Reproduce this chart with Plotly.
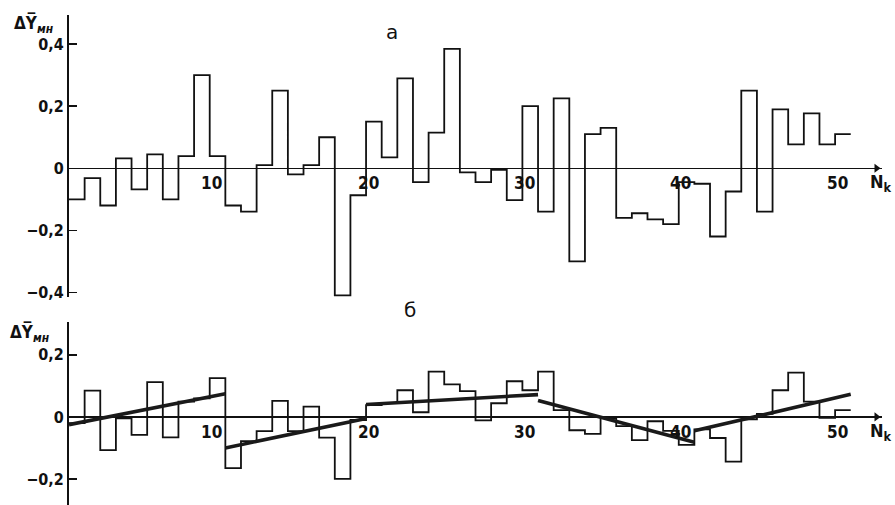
import plotly.graph_objects as go

# ---------------- data ----------------
# panel "а": step values for N_k = 1..50
a_vals = [-0.10, -0.032, -0.12, 0.032, -0.068, 0.045, -0.10, 0.039, 0.30, 0.039,
          -0.12, -0.14, 0.01, 0.25, -0.02, 0.01, 0.10, -0.41, -0.087, 0.15,
          0.035, 0.29, -0.045, 0.115, 0.385, -0.013, -0.045, -0.005, -0.103, 0.20,
          -0.14, 0.225, -0.30, 0.11, 0.13, -0.16, -0.145, -0.165, -0.18, -0.045,
          -0.05, -0.22, -0.075, 0.25, -0.14, 0.19, 0.077, 0.177, 0.077, 0.11]

# panel "б": step values for N_k = 1..50
b_vals = [-0.02, 0.085, -0.107, -0.005, -0.058, 0.112, -0.066, 0.049, 0.06, 0.125,
          -0.165, -0.078, -0.046, 0.052, -0.046, 0.033, -0.067, -0.20, -0.01, 0.038,
          0.045, 0.086, 0.015, 0.146, 0.105, 0.083, -0.011, 0.044, 0.115, 0.086,
          0.146, 0.022, -0.043, -0.055, -0.004, -0.03, -0.075, -0.014, -0.045, -0.09,
          -0.04, -0.068, -0.144, -0.008, 0.01, 0.086, 0.143, 0.049, -0.003, 0.022]

# piecewise linear trends in panel "б"
trend_x = [[0, 10], [10, 19], [19, 30], [30, 40], [40, 50]]
trend_y = [[-0.025, 0.075], [-0.10, -0.005], [0.04, 0.072], [0.053, -0.082], [-0.045, 0.073]]

x_ticks = [10, 20, 30, 40, 50]
a_yticks = [0.4, 0.2, 0, -0.2, -0.4]
a_yticktext = ["0,4", "0,2", "0", "−0,2", "−0,4"]
b_yticks = [0.2, 0, -0.2]
b_yticktext = ["0,2", "0", "−0,2"]

# ---------------- figure ----------------
W, H = 895, 505
INK = "#111111"
FONT = "DejaVu Sans Condensed, Liberation Sans Narrow, DejaVu Sans, sans-serif"

n = len(a_vals)
xs = list(range(n + 1))
xdom = [69 / W, 882 / W]
xr = [0, 52]

fig = go.Figure()
fig.add_trace(go.Scatter(x=xs, y=a_vals + [a_vals[-1]], mode="lines",
                         line=dict(shape="hv", color=INK, width=1.8),
                         xaxis="x", yaxis="y", hoverinfo="skip"))
fig.add_trace(go.Scatter(x=xs, y=b_vals + [b_vals[-1]], mode="lines",
                         line=dict(shape="hv", color=INK, width=1.8),
                         xaxis="x2", yaxis="y2", hoverinfo="skip"))
for tx, ty in zip(trend_x, trend_y):
    fig.add_trace(go.Scatter(x=tx, y=ty, mode="lines",
                             line=dict(color="#1a1a1a", width=3.6),
                             xaxis="x2", yaxis="y2", hoverinfo="skip"))
# arrowheads at the end of the N_k axes
for xa, ya in (("x", "y"), ("x2", "y2")):
    fig.add_trace(go.Scatter(x=[xr[1] - 0.35], y=[0], mode="markers",
                             marker=dict(symbol="triangle-right", size=8, color=INK),
                             xaxis=xa, yaxis=ya, hoverinfo="skip", cliponaxis=False))

yaxis_common = dict(showline=True, linecolor=INK, linewidth=2, ticks="inside",
                    ticklen=8, tickwidth=1.5, tickcolor=INK, showgrid=False,
                    zeroline=True, zerolinecolor=INK, zerolinewidth=1.2,
                    tickfont=dict(family=FONT, size=16, color=INK, weight="bold"),
                    automargin=False, fixedrange=True)

fig.update_layout(
    width=W, height=H, margin=dict(l=0, r=0, t=0, b=0, pad=0, autoexpand=False),
    paper_bgcolor="white", plot_bgcolor="white", showlegend=False,
    xaxis=dict(domain=xdom, range=xr, visible=False, anchor="y", automargin=False),
    yaxis=dict(domain=[1 - 297 / H, 1 - 15 / H], range=[-0.415, 0.494], anchor="x",
               tickvals=a_yticks, ticktext=a_yticktext, **yaxis_common),
    xaxis2=dict(domain=xdom, range=xr, visible=False, anchor="y2", automargin=False),
    yaxis2=dict(domain=[0, 1 - 322 / H], range=[-0.284, 0.306], anchor="x2",
                tickvals=b_yticks, ticktext=b_yticktext, **yaxis_common),
)

ann = []
for xref, yref in (("x", "y"), ("x2", "y2")):
    for v in x_ticks:
        ann.append(dict(x=v, y=0, xref=xref, yref=yref, text=str(v), showarrow=False,
                        xanchor="right", yanchor="top", xshift=-1, yshift=-3,
                        font=dict(family=FONT, size=17, color=INK, weight="bold")))
    ann.append(dict(x=51.1, y=0, xref=xref, yref=yref, text="N<sub>k</sub>",
                    showarrow=False, xanchor="left", yanchor="top", yshift=-1,
                    font=dict(family=FONT, size=18, color=INK, weight="bold")))

# axis titles
for xpx, ypx in ((12, 10), (8, 319)):
    ann.append(dict(x=xpx / W, y=1 - ypx / H, xref="paper", yref="paper",
                    text="ΔY\u0305<sub><i>мн</i></sub>", showarrow=False,
                    xanchor="left", yanchor="top",
                    font=dict(family=FONT, size=17, color=INK, weight="bold")))
# panel letters
ann.append(dict(x=392 / W, y=1 - 32 / H, xref="paper", yref="paper", text="а",
                xanchor="center", yanchor="middle",
                showarrow=False, font=dict(family="DejaVu Sans", size=20, color=INK)))
ann.append(dict(x=410 / W, y=1 - 310 / H, xref="paper", yref="paper", text="б",
                xanchor="center", yanchor="middle",
                showarrow=False, font=dict(family="DejaVu Sans", size=20, color=INK)))

fig.update_layout(annotations=ann)
fig.write_html("out.html", config={"displayModeBar": False, "staticPlot": True},
               post_script="document.body.style.margin='0';document.body.style.padding='0';")
